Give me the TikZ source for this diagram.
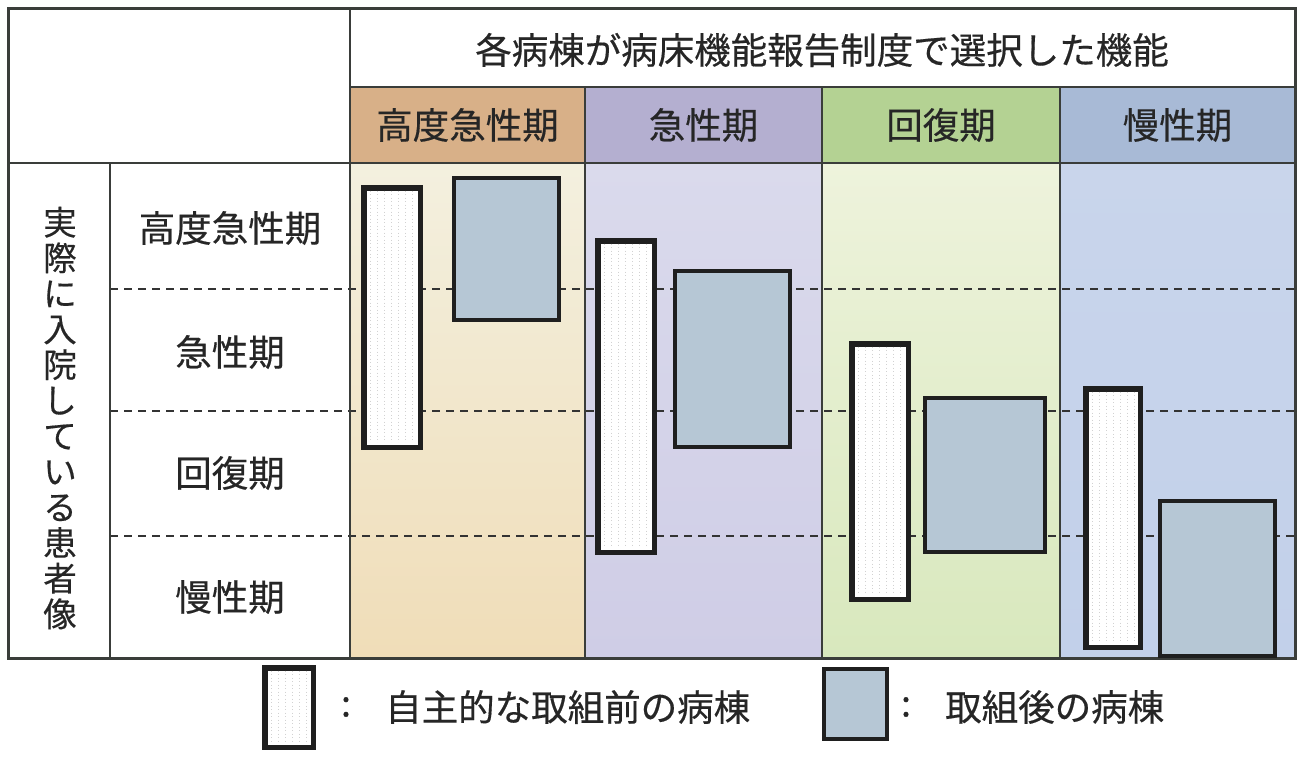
\documentclass[tikz,border=0pt]{standalone}
\usepackage{fontspec}
\setmainfont{Noto Sans CJK JP}[FakeBold=0.4]
\definecolor{linec}{HTML}{3A3D3A}
\definecolor{boxblue}{HTML}{B6C7D5}
\definecolor{hOrange}{HTML}{D8B088}
\definecolor{hPurple}{HTML}{B4AFD0}
\definecolor{hGreen}{HTML}{B4D293}
\definecolor{hBlue}{HTML}{A8BAD6}
\definecolor{bOrangeT}{HTML}{F3F0DF}
\definecolor{bOrangeB}{HTML}{F0DDB8}
\definecolor{bPurpleT}{HTML}{DADAEC}
\definecolor{bPurpleB}{HTML}{CFCDE6}
\definecolor{bGreenT}{HTML}{EEF3DC}
\definecolor{bGreenB}{HTML}{D8E8BD}
\definecolor{bBlueT}{HTML}{C9D5EB}
\definecolor{bBlueB}{HTML}{C2D0EA}
\newcommand\jpbig{\fontsize{36.5}{40}\selectfont}
\newcommand\jpvert{\fontsize{33.5}{35.6}\selectfont}
\tikzset{
  gridline/.style={draw=linec, line width=2pt},
  outerline/.style={draw=linec, line width=3pt},
  hdrcell/.style={anchor=north west, inner sep=0pt, outer sep=0pt, font=\jpbig, text=black!85},
  wbox/.style={draw=black!88, line width=3.5pt, fill=white, anchor=north west, inner sep=0pt},
  bbox/.style={draw=black!88, line width=3.5pt, fill=boxblue, anchor=north west, inner sep=0pt},
  lbl/.style={font=\jpbig, inner sep=0pt, text=black!85},
  dsh/.style={dash pattern=on 8pt off 6pt, line width=1.4pt, draw=black!80},
}
\newcommand\wdots[4]{%
  \begin{scope}
    \clip (#1+3,#2+3) rectangle (#3-3,#4-3);
    \foreach \k in {1,...,8} {
      \pgfmathsetmacro\xx{#1+7*\k}
      \draw[gray!35, line width=0.8pt, dash pattern=on 1pt off 2.5pt] (\xx,#2) -- (\xx,#4);
    }
  \end{scope}}
\begin{document}
\begin{tikzpicture}[x=1pt,y=-1pt]
\useasboundingbox (0,0) rectangle (1300,777);
\fill[white] (0,0) rectangle (1300,777);
% body column backgrounds
\shade[top color=bOrangeT, bottom color=bOrangeB] (350,163) rectangle (585,658);
\shade[top color=bPurpleT, bottom color=bPurpleB] (585,163) rectangle (822,658);
\shade[top color=bGreenT, bottom color=bGreenB] (822,163) rectangle (1060,658);
\shade[top color=bBlueT, bottom color=bBlueB] (1060,163) rectangle (1295,658);
% category headers
\node[hdrcell, fill=hOrange, minimum width=235pt, minimum height=76pt] (h1) at (350,87) {高度急性期};
\node[hdrcell, fill=hPurple, minimum width=237pt, minimum height=76pt] (h2) at (585,87) {急性期};
\node[hdrcell, fill=hGreen, minimum width=238pt, minimum height=76pt] (h3) at (822,87) {回復期};
\node[hdrcell, fill=hBlue, minimum width=235pt, minimum height=76pt] (h4) at (1060,87) {慢性期};
% title
\node[lbl] (title) at (822,50) {各病棟が病床機能報告制度で選択した機能};
% dashed row separators
\foreach \yy in {289,411,536} { \draw[dsh] (110,\yy) -- (1295,\yy); }
% grid
\draw[gridline] (350,87) -- (1295,87);
\draw[gridline] (8,163) -- (1295,163);
\draw[gridline] (350,8) -- (350,658);
\draw[gridline] (110,163) -- (110,658);
\foreach \xx in {585,822,1060} { \draw[gridline] (\xx,87) -- (\xx,658); }
\draw[outerline] (8,8) rectangle (1295,658);
% row labels
\node[lbl] (r1) at (230,228) {高度急性期};
\node[lbl] (r2) at (230,352) {急性期};
\node[lbl] (r3) at (230,473) {回復期};
\node[lbl] (r4) at (230,597) {慢性期};
\node[font=\jpvert, align=center, inner sep=0pt, text=black!85] (vert) at (60,418)
  {実\\際\\に\\入\\院\\し\\て\\い\\る\\患\\者\\像};
% boxes column 1
\node[wbox, minimum width=55pt, minimum height=258pt] (w1) at (363,187) {};
\wdots{363}{187}{418}{445}
\draw[draw=black!88, line width=3.5pt] (w1.north west) rectangle (w1.south east);
\node[bbox, minimum width=105pt, minimum height=142pt] (b1) at (452,176) {};
% column 2
\node[wbox, minimum width=55pt, minimum height=310pt] (w2) at (597,240) {};
\wdots{597}{240}{652}{550}
\draw[draw=black!88, line width=3.5pt] (w2.north west) rectangle (w2.south east);
\node[bbox, minimum width=115pt, minimum height=176pt] (b2) at (673,269) {};
% column 3
\node[wbox, minimum width=55pt, minimum height=254pt] (w3) at (851,343) {};
\wdots{851}{343}{906}{597}
\draw[draw=black!88, line width=3.5pt] (w3.north west) rectangle (w3.south east);
\node[bbox, minimum width=120pt, minimum height=154pt] (b3) at (923,396) {};
% column 4
\node[wbox, minimum width=53pt, minimum height=257pt] (w4) at (1085,388) {};
\wdots{1085}{388}{1138}{645}
\draw[draw=black!88, line width=3.5pt] (w4.north west) rectangle (w4.south east);
\node[bbox, minimum width=115pt, minimum height=155pt] (b4) at (1158,499) {};
% legend
\node[wbox, minimum width=47pt, minimum height=78pt] (lw) at (264,667) {};
\wdots{264}{667}{311}{745}
\draw[draw=black!88, line width=3.5pt] (lw.north west) rectangle (lw.south east);
\node[lbl] (lc1) at (346,707) {:};
\node[lbl, anchor=west] (lt1) at (385,707) {自主的な取組前の病棟};
\node[bbox, minimum width=63pt, minimum height=70pt] (lb) at (822,667) {};
\node[lbl] (lc2) at (906,707) {:};
\node[lbl, anchor=west] (lt2) at (945,707) {取組後の病棟};
\end{tikzpicture}
\end{document}
